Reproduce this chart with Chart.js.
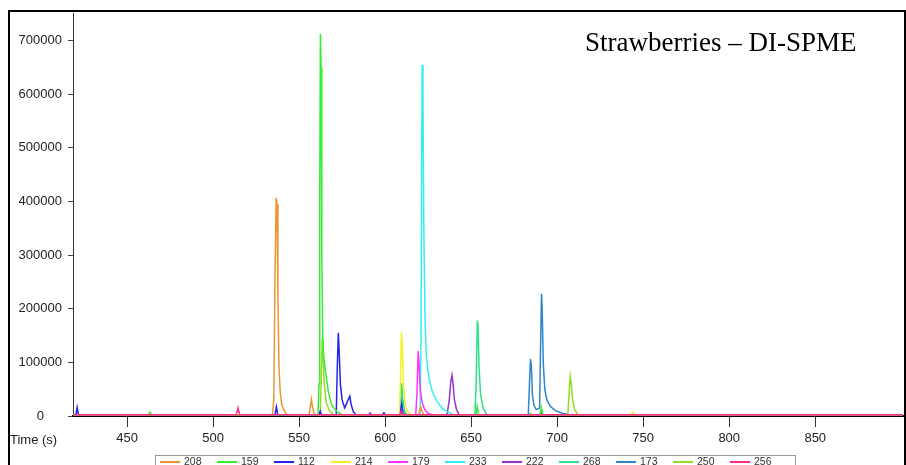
<!DOCTYPE html>
<html>
<head>
<meta charset="utf-8">
<script src="https://cdn.jsdelivr.net/npm/chart.js@4/dist/chart.umd.min.js"></script>
<style>
  html, body { margin: 0; padding: 0; background: #fff; }
  #wrap { width: 906px; height: 465px; position: relative; }
</style>
</head>
<body>
<div id="wrap"><canvas id="chrom" width="906" height="465"></canvas></div>
<script>
// ion traces (m/z) - [time (s), abundance] pairs
const B = 2500; // baseline level

const ions = ['208', '159', '112', '214', '179', '233', '222', '268', '173', '250', '256'];
const colors = ['#ee9530', '#33ee33', '#2424ee', '#f2f222', '#ff33ff', '#33f0f0', '#9933cc', '#2ee08c', '#2f86cc', '#92dd22', '#ff2d8f'];

const s208 = [[419, B], [534.5, B], [535.3, 30000], [536, 260000], [536.7, 407000], [537.2, 395000], [537.7, 220000], [538.3, 95000],
  [539, 45000], [540, 20000], [541.5, 9000], [543, B], [555.8, B], [556.6, 18000], [557.2, 31000], [557.8, 17000], [558.6, 6000],
  [559.5, B], [619.5, B], [620.2, 12000], [620.7, 17000], [621.3, 10000], [622.3, B], [901, B]];

const s159 = [[419, B], [462.5, B], [463.4, 7000], [464.3, B], [561, B], [561.6, 60000], [562, 420000], [562.4, 713000], [562.8, 650000],
  [563.2, 300000], [563.8, 140000], [564.5, 105000], [565.5, 80000], [567, 45000], [569, 20000], [572, 8000], [575, B],
  [652.8, B], [653.5, 18000], [654.3, B], [684, B], [684.5, 5000], [685, B], [690.1, B], [690.8, 16000], [691.6, B], [901, B]];

const s112 = [[419, B], [420.3, B], [421, 16000], [421.7, B], [536, B], [536.8, 17000], [537.6, B], [561.5, B], [562.3, 9000], [563, B],
  [571.6, B], [572.2, 90000], [572.8, 155000], [573.3, 120000], [574, 60000], [575, 30000], [576.5, 15000], [578.5, 30000],
  [579.5, 37000], [580.2, 22000], [581.5, 8000], [583, B], [598.5, B], [599.3, 6000], [600.1, B], [608.8, B], [609.5, 20000],
  [610.3, B], [690.2, B], [690.9, 10000], [691.6, B], [901, B]];

const s214 = [[419, B], [608.4, B], [609, 80000], [609.5, 156000], [610, 130000], [610.6, 60000], [611.5, 25000], [613, 8000], [615, B],
  [743, B], [744, 7000], [745, B], [901, B]];

const s179 = [[419, B], [608.8, B], [609.5, 15000], [610.2, B], [617.8, B], [618.5, 40000], [619.2, 121000], [619.7, 100000],
  [620.4, 50000], [621.5, 25000], [623, 12000], [625, 5000], [627, B], [901, B]];

const s233 = [[419, B], [620.3, B], [620.9, 150000], [621.5, 655000], [622, 600000], [622.5, 350000], [623.2, 180000], [624, 110000],
  [625.5, 70000], [627.5, 45000], [630, 28000], [633, 15000], [636, 8000], [640, B], [901, B]];

const s222 = [[419, B], [590.5, B], [591.3, 6000], [592, B], [636, B], [637.3, 30000], [638.2, 65000], [638.9, 76000], [639.5, 60000],
  [640.3, 30000], [641.5, 12000], [643, B], [901, B]];

const s268 = [[419, B], [608.5, B], [609.2, 40000], [609.6, 61000], [610.2, 35000], [611.2, 10000], [612.5, B], [652.2, B],
  [652.9, 60000], [653.6, 178000], [654, 170000], [654.6, 90000], [655.5, 40000], [657, 15000], [659, B], [901, B]];

const s173 = [[419, B], [608.8, B], [609.5, 35000], [610.3, 12000], [611.5, B], [683.2, B], [683.9, 60000], [684.5, 106000],
  [685, 95000], [685.6, 40000], [686.5, 20000], [687.8, 12000], [689.8, 15000], [690.3, 120000], [690.9, 228000], [691.3, 200000],
  [691.9, 100000], [692.8, 50000], [694, 30000], [696, 18000], [699, 10000], [703, 5000], [707, B], [901, B]];

const s250 = [[419, B], [562.3, B], [562.9, 70000], [563.4, 143000], [563.9, 120000], [564.6, 60000], [565.8, 25000], [567.5, 10000],
  [570, B], [706.2, B], [706.9, 40000], [707.6, 74000], [708.2, 60000], [709, 30000], [710.2, 12000], [712, B], [901, B]];

const s256 = [[419, B], [513.5, B], [514.5, 15000], [515.5, B], [608.8, B], [609.5, 10000], [610.3, B], [901, B]];

const traces = [s208, s159, s112, s214, s179, s233, s222, s268, s173, s250, s256];

const xTicks = [450, 500, 550, 600, 650, 700, 750, 800, 850];
const yTicks = [0, 100000, 200000, 300000, 400000, 500000, 600000, 700000];

const datasets = traces.map((pts, i) => ({
  label: ions[i],
  data: pts.map(p => ({ x: p[0], y: p[1] })),
  borderColor: colors[i],
  backgroundColor: colors[i],
  borderWidth: 1.5,
  pointRadius: 0,
  showLine: true,
  tension: 0,
  order: i === traces.length - 1 ? 0 : 1
}));

// frame, title, axis caption and legend strip
const decor = {
  id: 'decor',
  afterDraw(chart) {
    const c = chart.ctx;
    c.save();
    c.strokeStyle = '#000';
    c.lineWidth = 2;
    c.beginPath();
    c.moveTo(9, 465); c.lineTo(9, 11); c.lineTo(905, 11); c.lineTo(905, 465);
    c.stroke();

    c.fillStyle = '#000';
    c.font = '27px "Liberation Serif", "Times New Roman", serif';
    c.textBaseline = 'alphabetic';
    c.textAlign = 'left';
    c.fillText('Strawberries \u2013 DI-SPME', 585, 51);

    c.fillStyle = '#222';
    c.font = '13px "Liberation Sans", Arial, sans-serif';
    c.textBaseline = 'middle';
    c.fillText('Time (s)', 10, 440);

    c.strokeStyle = '#999';
    c.lineWidth = 1;
    c.strokeRect(155.5, 455.5, 640, 20);
    c.font = '10.5px "Liberation Sans", Arial, sans-serif';
    ions.forEach((name, i) => {
      const x = 160 + i * 57;
      c.strokeStyle = colors[i];
      c.lineWidth = 2;
      c.beginPath();
      c.moveTo(x, 462); c.lineTo(x + 20, 462);
      c.stroke();
      c.fillStyle = '#333';
      c.fillText(name, x + 24, 462);
    });
    c.restore();
  }
};

new Chart(document.getElementById('chrom'), {
  type: 'scatter',
  data: { datasets },
  plugins: [decor],
  options: {
    responsive: false,
    animation: false,
    events: [],
    layout: { padding: { top: 12, left: 0, right: 3, bottom: 0 } },
    plugins: { legend: { display: false }, title: { display: false }, tooltip: { enabled: false } },
    scales: {
      x: {
        type: 'linear',
        min: 418.6,
        max: 901,
        afterFit: s => { s.height = 49; },
        afterBuildTicks: s => { s.ticks = xTicks.map(v => ({ value: v })); },
        ticks: {
          padding: 4,
          color: '#222',
          font: { family: '"Liberation Sans", Arial, sans-serif', size: 13 },
          callback: v => String(v),
          maxRotation: 0
        },
        grid: { drawOnChartArea: false, drawTicks: true, tickLength: 11, color: '#333', lineWidth: 1 },
        border: { color: '#000', width: 2 }
      },
      y: {
        type: 'linear',
        min: 0,
        max: 750000,
        afterFit: s => { s.width = 73; },
        afterBuildTicks: s => { s.ticks = yTicks.map(v => ({ value: v })); },
        ticks: {
          padding: 6,
          crossAlign: 'center',
          color: '#222',
          font: { family: '"Liberation Sans", Arial, sans-serif', size: 13 },
          callback: v => String(v)
        },
        grid: { drawOnChartArea: false, drawTicks: true, tickLength: 5, color: '#444', lineWidth: 1 },
        border: { color: '#333', width: 1 }
      }
    }
  }
});
</script>
</body>
</html>
